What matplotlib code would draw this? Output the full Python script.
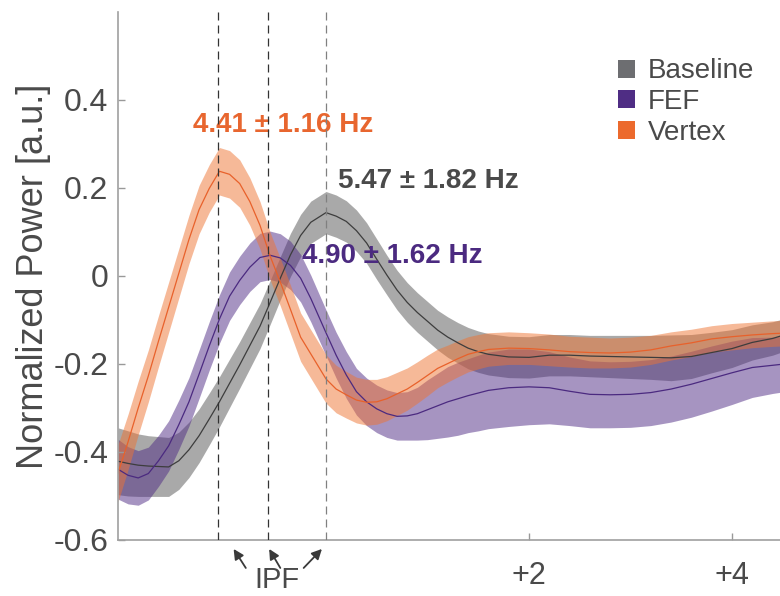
import numpy as np
import matplotlib
matplotlib.use('Agg')
import matplotlib.pyplot as plt
from matplotlib.patches import Patch
from matplotlib.transforms import blended_transform_factory

plt.rcParams['font.family'] = ['Liberation Sans', 'DejaVu Sans']
plt.rcParams['axes.unicode_minus'] = False

# Frequency relative to the baseline IPF (Hz)
freq_offset = [-2.05, -1.95, -1.85, -1.75, -1.65, -1.55, -1.45, -1.35, -1.25, -1.15,
               -1.05, -0.95, -0.85, -0.75, -0.65, -0.55, -0.45, -0.35, -0.25, -0.15,
               0.0, 0.1, 0.2, 0.3, 0.4, 0.5, 0.6, 0.7, 0.8, 0.9,
               1.0, 1.1, 1.2, 1.3, 1.4, 1.5, 1.6, 1.8, 2.0, 2.2,
               2.4, 2.6, 2.8, 3.0, 3.2, 3.4, 3.6, 3.8, 4.0, 4.2,
               4.4, 4.6]

baseline_mean = [-0.421, -0.426, -0.430, -0.432, -0.433, -0.434, -0.420, -0.395, -0.363, -0.325,
                 -0.286, -0.244, -0.202, -0.158, -0.114, -0.060, -0.005, 0.048, 0.092, 0.122,
                 0.144, 0.136, 0.124, 0.103, 0.075, 0.038, 0.002, -0.032, -0.060, -0.083,
                 -0.103, -0.123, -0.139, -0.152, -0.164, -0.172, -0.178, -0.184, -0.185, -0.180,
                 -0.180, -0.182, -0.183, -0.184, -0.185, -0.186, -0.183, -0.174, -0.165, -0.151,
                 -0.142, -0.128]
baseline_sem = [0.076, 0.074, 0.071, 0.069, 0.068, 0.067, 0.065, 0.063, 0.061, 0.059,
                0.057, 0.055, 0.053, 0.052, 0.051, 0.050, 0.049, 0.049, 0.048, 0.048,
                0.048, 0.048, 0.047, 0.047, 0.046, 0.046, 0.045, 0.045, 0.045, 0.045,
                0.045, 0.045, 0.046, 0.046, 0.047, 0.047, 0.047, 0.047, 0.047, 0.047,
                0.047, 0.047, 0.048, 0.049, 0.050, 0.052, 0.050, 0.046, 0.043, 0.040,
                0.038, 0.036]

fef_mean = [-0.439, -0.453, -0.459, -0.449, -0.420, -0.386, -0.338, -0.286, -0.223, -0.159,
            -0.098, -0.046, -0.010, 0.020, 0.042, 0.047, 0.041, 0.024, -0.005, -0.051,
            -0.129, -0.180, -0.225, -0.263, -0.286, -0.302, -0.313, -0.319, -0.318, -0.313,
            -0.304, -0.295, -0.286, -0.279, -0.272, -0.266, -0.260, -0.254, -0.252, -0.254,
            -0.262, -0.269, -0.270, -0.269, -0.265, -0.257, -0.246, -0.233, -0.220, -0.208,
            -0.203, -0.198]
fef_sem = [0.068, 0.065, 0.062, 0.060, 0.058, 0.057, 0.056, 0.055, 0.055, 0.055,
           0.055, 0.055, 0.055, 0.055, 0.055, 0.055, 0.055, 0.055, 0.054, 0.053,
           0.052, 0.052, 0.053, 0.053, 0.054, 0.054, 0.054, 0.054, 0.055, 0.060,
           0.068, 0.074, 0.080, 0.083, 0.084, 0.086, 0.087, 0.088, 0.086, 0.082,
           0.078, 0.076, 0.075, 0.075, 0.075, 0.075, 0.075, 0.074, 0.072, 0.068,
           0.064, 0.062]

vertex_mean = [-0.449, -0.377, -0.300, -0.227, -0.148, -0.071, 0.006, 0.083, 0.151, 0.199,
               0.238, 0.231, 0.210, 0.169, 0.115, 0.045, -0.014, -0.076, -0.139, -0.177,
               -0.234, -0.257, -0.270, -0.282, -0.287, -0.286, -0.279, -0.268, -0.257, -0.242,
               -0.226, -0.210, -0.199, -0.188, -0.178, -0.172, -0.167, -0.164, -0.165, -0.168,
               -0.172, -0.174, -0.175, -0.173, -0.168, -0.159, -0.152, -0.143, -0.138, -0.134,
               -0.131, -0.129]
vertex_sem = [0.065, 0.063, 0.061, 0.059, 0.058, 0.057, 0.056, 0.055, 0.055, 0.054,
              0.054, 0.054, 0.054, 0.054, 0.054, 0.054, 0.054, 0.055, 0.055, 0.055,
              0.055, 0.054, 0.053, 0.052, 0.052, 0.051, 0.050, 0.049, 0.048, 0.047,
              0.046, 0.044, 0.042, 0.041, 0.040, 0.039, 0.038, 0.037, 0.036, 0.036,
              0.035, 0.035, 0.034, 0.034, 0.033, 0.032, 0.031, 0.030, 0.030, 0.029,
              0.029, 0.029]

# Individual peak frequencies (Hz) and their spread
condition_names = ['Baseline', 'FEF', 'Vertex']
ipf_hz = [5.47, 4.90, 4.41]
ipf_sd = [1.82, 1.62, 1.16]

line_colors = ['#3d3d3d', '#4b2a80', '#e8612b']
fill_colors = ['#555555', '#4e2a84', '#ee7433']
legend_colors = ['#6d6e71', '#4f2d84', '#ec6a2d']
label_colors = ['#4a4a4a', '#4b2a80', '#e8662f']
text_gray = '#4a4a4a'

fig = plt.figure(figsize=(7.8, 5.96), dpi=100)
ax = fig.add_axes([0.1513, 0.0940, 0.8487, 0.8859])

x = np.array(freq_offset)
series = [(baseline_mean, baseline_sem), (fef_mean, fef_sem), (vertex_mean, vertex_sem)]
for (mean, sem), lc, fc in zip(series, line_colors, fill_colors):
    m = np.array(mean)
    s = np.array(sem)
    ax.fill_between(x, m - s, m + s, color=fc, alpha=0.5, linewidth=0)
    ax.plot(x, m, color=lc, linewidth=0.9)

# Dashed markers at each condition's IPF
ipf_offsets = [f - ipf_hz[0] for f in ipf_hz]
dash_colors = ['#808080', '#333333', '#333333']
for off, dc in zip(ipf_offsets, dash_colors):
    ax.axvline(off, color=dc, linewidth=0.9, linestyle=(0, (6.4, 4.0)), zorder=5)

ax.set_xlim(-2.049, 4.473)
ax.set_ylim(-0.6, 0.6)

ax.set_yticks([0.4, 0.2, 0, -0.2, -0.4, -0.6])
ax.set_yticklabels(['0.4', '0.2', '0', '-0.2', '-0.4', '-0.6'])
ax.set_xticks([2, 4])
ax.set_xticklabels(['+2', '+4'])
ax.tick_params(axis='y', direction='in', length=5, width=1, color='#999999',
               labelsize=23, labelcolor=text_gray, pad=7)
ax.tick_params(axis='x', direction='in', length=5, width=1, color='#999999',
               labelsize=22, labelcolor=text_gray, pad=15)

for side in ['top', 'right']:
    ax.spines[side].set_visible(False)
for side in ['left', 'bottom']:
    ax.spines[side].set_color('#a0a0a0')
    ax.spines[side].set_linewidth(1.2)

ax.set_ylabel('Normalized Power [a.u.]', fontsize=26, color=text_gray)
ax.yaxis.set_label_coords(-0.101, 0.5)

# Peak frequency labels
label_pos = [(0.118, 0.201, 'left'), (-0.236, 0.029, 'left'), (-0.424, 0.328, 'center')]
for hz, sd, col, (lx, ly, ha) in zip(ipf_hz, ipf_sd, label_colors, label_pos):
    ax.text(lx, ly, f'{hz:.2f} \u00b1 {sd:.2f} Hz', color=col, fontsize=20,
            fontweight='bold', ha=ha, va='baseline')

# IPF arrows under the axis
trans = blended_transform_factory(ax.transData, ax.transAxes)
arrow_tips = [ipf_offsets[2] + 0.15, ipf_offsets[1] + 0.01, ipf_offsets[0] - 0.04]
arrow_tails = [ipf_offsets[2] + 0.27, ipf_offsets[1] + 0.12, ipf_offsets[0] - 0.22]
for tip, tail in zip(arrow_tips, arrow_tails):
    ax.annotate('', xy=(tip, -0.017), xycoords=trans,
                xytext=(tail, -0.053), textcoords=trans,
                arrowprops=dict(arrowstyle='-|>', color='#3a3a3a', lw=1.3,
                                mutation_scale=15, shrinkA=0, shrinkB=0),
                annotation_clip=False)
ax.text(-0.48, -0.091, 'IPF', transform=trans, fontsize=21, color=text_gray,
        ha='center', va='baseline')

handles = [Patch(facecolor=c, edgecolor='none') for c in legend_colors]
leg = ax.legend(handles, condition_names, loc='upper left',
                bbox_to_anchor=(0.792, 0.902), bbox_transform=fig.transFigure,
                frameon=False, fontsize=20, handlelength=0.62, handleheight=0.62,
                handletextpad=0.47, labelspacing=0.17, borderpad=0, borderaxespad=0)
for t in leg.get_texts():
    t.set_color(text_gray)

fig.savefig('out.png', dpi=100)
